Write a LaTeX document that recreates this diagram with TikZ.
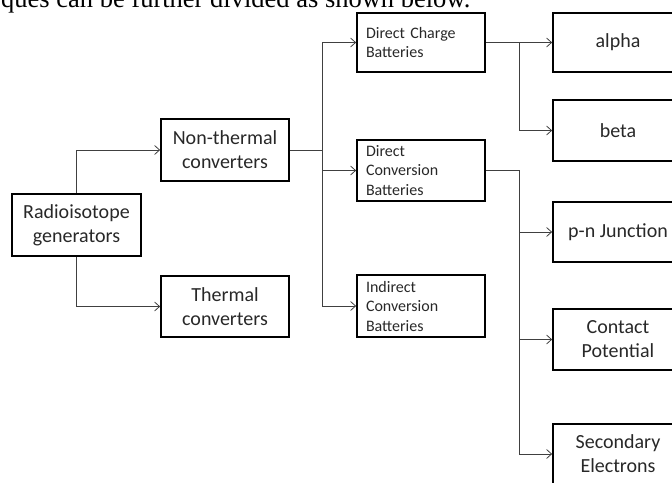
\documentclass[tikz,border=0pt]{standalone}
\usepackage{fontspec}
\setmainfont{Carlito}
\newfontfamily\serifface{Liberation Serif}
\usetikzlibrary{arrows.meta}
\definecolor{txt}{RGB}{40,40,40}
\begin{document}
\begin{tikzpicture}[x=1pt,y=-1pt,
  bigbox/.style={draw=black, line width=1.7pt, minimum width=#1, minimum height=61pt, inner sep=0pt, align=center, text=txt, font=\fontsize{20}{24}\selectfont},
  bigbox/.default=128pt,
  smallbox/.style={draw=black, line width=1.7pt, text width=110pt, inner xsep=9pt, inner ysep=0pt, minimum height=61pt, align=left, text=txt, font=\fontsize{16}{19.5}\selectfont},
  conn/.style={draw=black!75, line width=0.8pt},
  arr/.style={conn, -{Straight Barb[length=5pt,width=9pt,line width=0.8pt]}}
]
\useasboundingbox (0,0) rectangle (672,482);
\clip (0,0) rectangle (672,482);
\node[anchor=base west, font=\serifface\fontsize{26.5}{28}\selectfont, inner sep=0pt] (cap) at (1,7.5) {ques can be further divided as shown below.};

\node[bigbox=129pt, minimum height=62pt] (rg) at (76.5,225) {Radioisotope\\generators};
\node[bigbox, minimum height=62pt] (nt) at (225,150) {Non-thermal\\converters};
\node[bigbox] (th) at (225,306.5) {Thermal\\converters};

\node[smallbox, minimum height=59pt] (dc) at (421,42.5) {Direct Charge\\Batteries};
\node[smallbox] (dv) at (421,170.5) {Direct\\Conversion\\Batteries};
\node[smallbox, minimum height=62pt] (id) at (421,306) {Indirect\\Conversion\\Batteries};

\node[bigbox=130pt, minimum height=59pt] (al) at (618,42.5) {alpha};
\node[bigbox=130pt] (be) at (618,130.5) {beta};
\node[bigbox=130pt, minimum height=60pt] (pn) at (618,232) {p-n Junction};
\node[bigbox=130pt] (cp) at (618,339.5) {Contact\\Potential};
\node[bigbox=130pt, minimum height=60pt] (se) at (618,454) {Secondary\\Electrons};

\coordinate (j1) at (322,150);
\coordinate (j2) at (519,42);

\draw[arr] (rg.north) |- (nt.west);
\draw[arr] (rg.south) |- (th.west);

\draw[conn] (nt.east) -- (j1);
\draw[conn] (j1 |- dc.west) -- (j1 |- id.west);
\draw[arr] (j1 |- dc.west) -- (dc.west);
\draw[arr] (j1 |- dv.west) -- (dv.west);
\draw[arr] (j1 |- id.west) -- (id.west);

\draw[conn] (dc.east) -- (j2 |- dc.east);
\draw[conn] (j2 |- dc.east) -- (j2 |- be.west);
\draw[arr] (j2 |- dc.east) -- (al.west);
\draw[arr] (j2 |- be.west) -- (be.west);

\draw[conn] (dv.east) -- (j2 |- dv.east) -- (j2 |- se.west);
\draw[arr] (j2 |- pn.west) -- (pn.west);
\draw[arr] (j2 |- cp.west) -- (cp.west);
\draw[arr] (j2 |- se.west) -- (se.west);
\end{tikzpicture}
\end{document}
